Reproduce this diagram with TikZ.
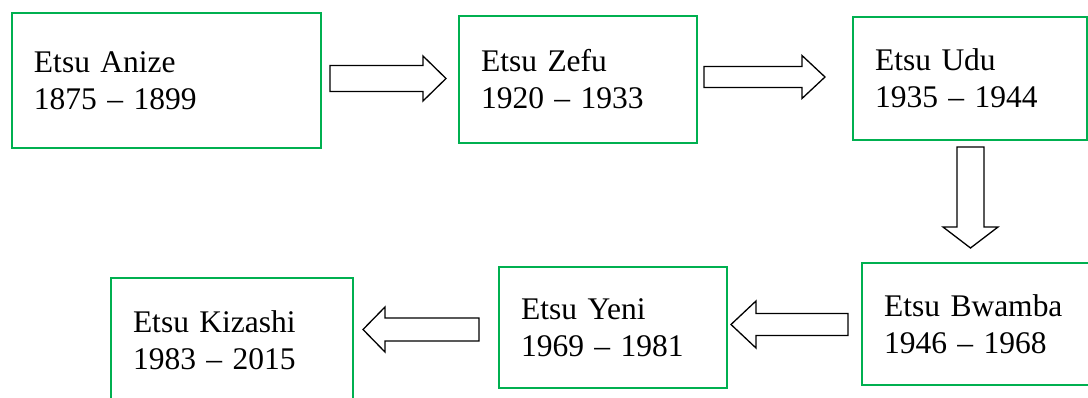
\documentclass[tikz,border=0pt]{standalone}
\usepackage{fontspec}
\setmainfont{Liberation Serif}
\usepackage{xcolor}
\usepackage{tikz}
\usetikzlibrary{positioning, calc}

\definecolor{rulergreen}{HTML}{00B050}

% hollow block arrow: start, tip, shaft half width, head half width, head length
\newcommand{\fatarrow}[5]{%
  \draw[blockarrow] ($(#1)!#3!90:(#2)$) -- ($($(#2)!#5!(#1)$)!#3!-90:(#1)$)
    -- ($($(#2)!#5!(#1)$)!#4!-90:(#1)$) -- (#2)
    -- ($($(#2)!#5!(#1)$)!#4!90:(#1)$) -- ($($(#2)!#5!(#1)$)!#3!90:(#1)$)
    -- ($(#1)!#3!-90:(#2)$) -- cycle;}

\begin{document}
\begin{tikzpicture}[
        x=1pt, y=-1pt,
        ruler/.style={
          draw=rulergreen,
          line width=2.4pt,
          inner xsep=22pt,
          inner ysep=0pt,
          align=left,
          font=\fontsize{31.5}{37}\selectfont
        },
        blockarrow/.style={
          draw,
          fill=white,
          line width=1.3pt,
          line join=miter
        }
      ]
        \useasboundingbox (0,0) rectangle (1088,398);
        \clip (0,0) rectangle (1088,398);

        % top row, left to right
        \node[ruler, minimum height=135pt, text width=265pt] (anize) at (166.5,80.5) {Etsu Anize\\1875 -- 1899};
        \node[ruler, minimum height=127pt, text width=194pt] (zefu) at (578,79.5) {Etsu Zefu\\1920 -- 1933};
        \node[ruler, minimum height=123pt, text width=190pt] (udu) at (970,78.5) {Etsu Udu\\1935 -- 1944};

        % bottom row, right to left
        \node[ruler, minimum height=122pt, text width=194pt] (bwamba) at (981,324) {Etsu Bwamba\\1946 -- 1968};
        \node[ruler, minimum height=121pt, text width=184pt] (yeni) at (613,327.5) {Etsu Yeni\\1969 -- 1981};
        \node[ruler, minimum height=124pt, text width=198pt] (kizashi) at (232,340) {Etsu Kizashi\\1983 -- 2015};

        % arrow ends
        \coordinate (a1s) at (330,78.5);   \coordinate (a1e) at (446,78.5);
        \coordinate (a2s) at (704,77);     \coordinate (a2e) at (825,77);
        \coordinate (a3s) at (970.5,147);  \coordinate (a3e) at (970.5,248);
        \coordinate (a4s) at (848,324.5);  \coordinate (a4e) at (731,324.5);
        \coordinate (a5s) at (479,329.5);  \coordinate (a5e) at (363,329.5);

        \fatarrow{a1s}{a1e}{13pt}{22.5pt}{23pt}
        \fatarrow{a2s}{a2e}{10.5pt}{21.5pt}{23pt}
        \fatarrow{a3s}{a3e}{13.5pt}{27.5pt}{21pt}
        \fatarrow{a4s}{a4e}{11pt}{23.5pt}{25pt}
        \fatarrow{a5s}{a5e}{11.5pt}{22.5pt}{22pt}
      \end{tikzpicture}
\end{document}
